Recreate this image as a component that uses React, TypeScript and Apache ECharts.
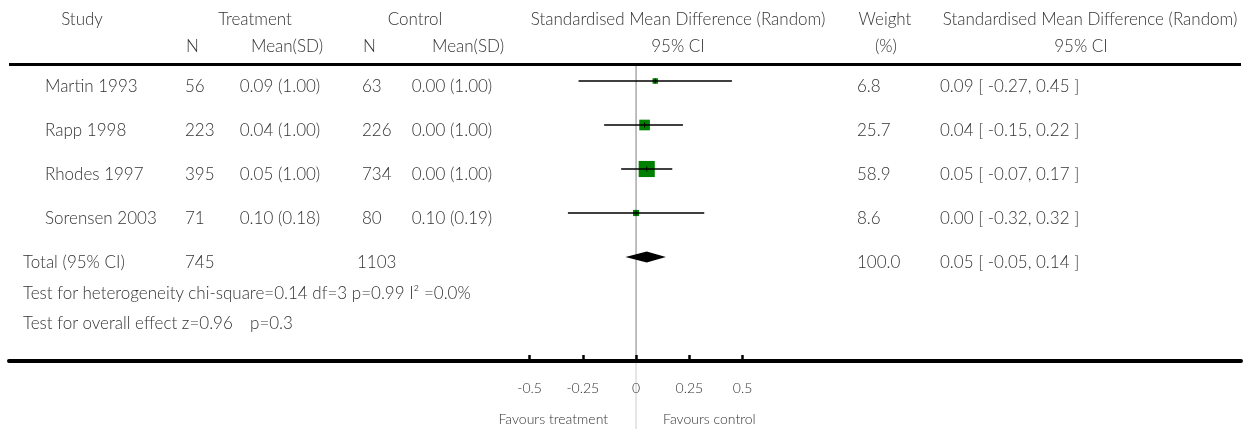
import React, { useEffect, useRef } from "react";
import * as echarts from "echarts";

// ---- data ----
const studies = ["Martin 1993", "Rapp 1998", "Rhodes 1997", "Sorensen 2003"];
const treatN = [56, 223, 395, 71];
const treatMeanSD = ["0.09 (1.00)", "0.04 (1.00)", "0.05 (1.00)", "0.10 (0.18)"];
const ctrlN = [63, 226, 734, 80];
const ctrlMeanSD = ["0.00 (1.00)", "0.00 (1.00)", "0.00 (1.00)", "0.10 (0.19)"];
const smd = [0.09, 0.04, 0.05, 0.0];
const ciLower = [-0.27, -0.15, -0.07, -0.32];
const ciUpper = [0.45, 0.22, 0.17, 0.32];
const weights = [6.8, 25.7, 58.9, 8.6];

const totalLabel = "Total (95% CI)";
const totalTreatN = 745;
const totalCtrlN = 1103;
const totalSmd = 0.05;
const totalLower = -0.05;
const totalUpper = 0.14;
const totalWeight = 100.0;

const heterogeneityText = "Test for heterogeneity chi-square=0.14 df=3 p=0.99 I² =0.0%";
const overallText = "Test for overall effect z=0.96";
const overallP = "p=0.3";

const tickValues = [-0.5, -0.25, 0, 0.25, 0.5];
const tickLabels = ["-0.5", "-0.25", "0", "0.25", "0.5"];
const favoursLeft = "Favours treatment";
const favoursRight = "Favours control";

const FONT = "Lato, 'Noto Sans', sans-serif";
const TXT = "#333";

function fmtCI(e: number, l: number, u: number) {
  return `${e.toFixed(2)} [ ${l.toFixed(2)}, ${u.toFixed(2)} ]`;
}

export default function App() {
  const ref = useRef<HTMLDivElement>(null);
  useEffect(() => {
    if (!ref.current) return;
    const chart = echarts.init(ref.current, null, { renderer: "svg" });
    const studyData = smd.map((v, i) => [v, i, ciLower[i], ciUpper[i], weights[i]]);
    const totalRow = studies.length;
    chart.setOption({
      animation: false,
      grid: { left: 9, right: 11, top: 66, bottom: 68 },
      xAxis: {
        type: "value",
        min: -2.944,
        max: 2.84,
        splitLine: { show: false },
        axisLine: { show: true, onZero: false, lineStyle: { color: "#000", width: 4 } },
        axisTick: {
          show: true,
          customValues: tickValues,
          inside: true,
          length: 6,
          lineStyle: { color: "#000", width: 2.5 },
        },
        axisLabel: {
          customValues: tickValues,
          margin: 19,
          fontSize: 14,
          fontFamily: FONT,
          fontWeight: 300,
          color: TXT,
          formatter: (v: number) => {
            const idx = tickValues.findIndex((t) => Math.abs(t - v) < 1e-9);
            return idx >= 0 ? tickLabels[idx] : "";
          },
        },
      },
      yAxis: {
        type: "value",
        inverse: true,
        min: -0.34091,
        max: 6.36364,
        show: false,
      },
      series: [
        {
          type: "custom",
          z: 3,
          encode: { x: 0, y: 1 },
          data: studyData,
          renderItem: (params: any, api: any) => {
            const c = api.coord([api.value(0), api.value(1)]);
            const l = api.coord([api.value(2), api.value(1)]);
            const h = api.coord([api.value(3), api.value(1)]);
            const s = 2.1 * Math.sqrt(api.value(4));
            return {
              type: "group",
              children: [
                {
                  type: "rect",
                  shape: { x: c[0] - s / 2, y: c[1] - s / 2, width: s, height: s },
                  style: { fill: "#008000" },
                },
                {
                  type: "line",
                  shape: { x1: l[0], y1: l[1], x2: h[0], y2: h[1] },
                  style: { stroke: "#000", lineWidth: 1.3 },
                },
                {
                  type: "line",
                  shape: { x1: c[0], y1: c[1] - 2.5, x2: c[0], y2: c[1] + 2.5 },
                  style: { stroke: "#000", lineWidth: 1 },
                },
              ],
            };
          },
        },
        {
          type: "custom",
          z: 3,
          encode: { x: 0, y: 1 },
          data: [[totalSmd, totalRow, totalLower, totalUpper]],
          renderItem: (params: any, api: any) => {
            const c = api.coord([api.value(0), api.value(1)]);
            const l = api.coord([api.value(2), api.value(1)]);
            const h = api.coord([api.value(3), api.value(1)]);
            return {
              type: "polygon",
              shape: {
                points: [
                  [l[0], l[1]],
                  [c[0], c[1] - 5.5],
                  [h[0], h[1]],
                  [c[0], c[1] + 5.5],
                ],
              },
              style: { fill: "#000" },
            };
          },
        },
      ],
    });

    const zeroX = chart.convertToPixel({ gridIndex: 0 }, [0, 0])[0];
    const rowY = (i: number) => chart.convertToPixel({ gridIndex: 0 }, [0, i])[1];

    const txt = (text: string, x: number, y: number, align: string, size = 17) => ({
      type: "text",
      x,
      y,
      style: {
        text,
        fontSize: size,
        fontFamily: FONT,
        fontWeight: 300,
        fill: TXT,
        textAlign: align,
        textVerticalAlign: "middle",
      },
    });

    const g: any[] = [];
    // lines
    g.push({ type: "line", z: 0, shape: { x1: 9, y1: 64.5, x2: 1241, y2: 64.5 }, style: { stroke: "#000", lineWidth: 3 } });
    g.push({ type: "line", z: 0, shape: { x1: zeroX, y1: 66, x2: zeroX, y2: 359 }, style: { stroke: "#aaa", lineWidth: 1.5 } });
    g.push({ type: "line", z: 0, shape: { x1: zeroX, y1: 363, x2: zeroX, y2: 429 }, style: { stroke: "#ddd", lineWidth: 1.5 } });

    // headers
    const h1 = 18;
    const h2 = 45.5;
    g.push(txt("Study", 82, h1, "center"));
    g.push(txt("Treatment", 255, h1, "center"));
    g.push(txt("Control", 415, h1, "center"));
    g.push(txt("Standardised Mean Difference (Random)", 678, h1, "center"));
    g.push(txt("Weight", 885, h1, "center"));
    g.push(txt("Standardised Mean Difference (Random)", 1090, h1, "center"));
    g.push(txt("N", 192.5, h2, "center"));
    g.push(txt("Mean(SD)", 287, h2, "center"));
    g.push(txt("N", 369.5, h2, "center"));
    g.push(txt("Mean(SD)", 468, h2, "center"));
    g.push(txt("95% CI", 678, h2, "center"));
    g.push(txt("(%)", 886, h2, "center"));
    g.push(txt("95% CI", 1081, h2, "center"));

    // study rows
    studies.forEach((s, i) => {
      const y = rowY(i) + 4.5;
      g.push(txt(s, 45, y, "left"));
      g.push(txt(String(treatN[i]), 185, y, "left"));
      g.push(txt(treatMeanSD[i], 280, y, "center"));
      g.push(txt(String(ctrlN[i]), 362, y, "left"));
      g.push(txt(ctrlMeanSD[i], 452, y, "center"));
      g.push(txt(weights[i].toFixed(1), 857, y, "left"));
      g.push(txt(fmtCI(smd[i], ciLower[i], ciUpper[i]), 940, y, "left"));
    });

    // total row
    const ty = rowY(totalRow) + 5;
    g.push(txt(totalLabel, 23, ty, "left"));
    g.push(txt(String(totalTreatN), 185, ty, "left"));
    g.push(txt(String(totalCtrlN), 357, ty, "left"));
    g.push(txt(totalWeight.toFixed(1), 857, ty, "left"));
    g.push(txt(fmtCI(totalSmd, totalLower, totalUpper), 940, ty, "left"));

    g.push(txt(heterogeneityText, 23, 292, "left"));
    g.push(txt(overallText, 23, 322, "left"));
    g.push(txt(overallP, 250, 322, "left"));

    g.push(txt(favoursLeft, zeroX - 28, 418, "right", 14));
    g.push(txt(favoursRight, zeroX + 27, 418, "left", 14));

    chart.setOption({ graphic: { elements: g } });

    return () => chart.dispose();
  }, []);
  return <div ref={ref} style={{ position: "fixed", left: 0, top: 0, width: 1252, height: 429 }} />;
}
